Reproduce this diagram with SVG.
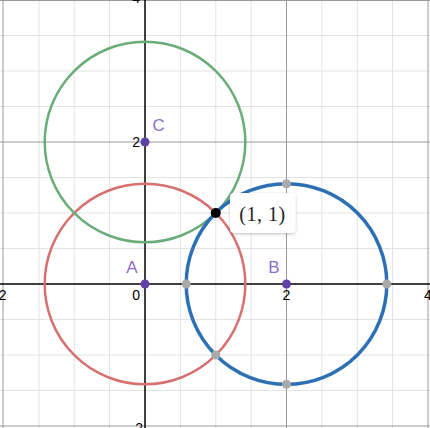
<svg xmlns="http://www.w3.org/2000/svg" width="430" height="428" viewBox="0 0 430 428">
  <defs>
    <style>
      .minor { stroke: #e3e3e3; stroke-width: 1; }
      .major { stroke: #9a9a9a; stroke-width: 1; }
      .axis { stroke: #000; stroke-width: 1.5; }
      .num { font-family: "Liberation Sans", Arial, sans-serif; font-size: 14px; fill: #000; }
      .lbl { font-family: "Liberation Sans", Arial, sans-serif; font-size: 17px; fill: #8b6fca; }
      .pt { fill: #6042a6; }
      .gpt { fill: #a9a9a9; }
      .circ { fill: none; }
    </style>
    <filter id="sh" x="-20%" y="-20%" width="140%" height="150%">
      <feDropShadow dx="0" dy="1" stdDeviation="1.5" flood-color="#000" flood-opacity="0.25"/>
    </filter>
  </defs>
  <rect x="0" y="0" width="430" height="428" fill="#fff"/>
  <g id="grid">
    <g class="minor">
      <line x1="38.9" y1="0" x2="38.9" y2="428"/>
      <line x1="74.25" y1="0" x2="74.25" y2="428"/>
      <line x1="109.6" y1="0" x2="109.6" y2="428"/>
      <line x1="180.4" y1="0" x2="180.4" y2="428"/>
      <line x1="215.75" y1="0" x2="215.75" y2="428"/>
      <line x1="251.1" y1="0" x2="251.1" y2="428"/>
      <line x1="321.9" y1="0" x2="321.9" y2="428"/>
      <line x1="357.25" y1="0" x2="357.25" y2="428"/>
      <line x1="392.6" y1="0" x2="392.6" y2="428"/>
      <line x1="0" y1="35.5" x2="430" y2="35.5"/>
      <line x1="0" y1="71" x2="430" y2="71"/>
      <line x1="0" y1="106.5" x2="430" y2="106.5"/>
      <line x1="0" y1="177.5" x2="430" y2="177.5"/>
      <line x1="0" y1="213" x2="430" y2="213"/>
      <line x1="0" y1="248.5" x2="430" y2="248.5"/>
      <line x1="0" y1="319.5" x2="430" y2="319.5"/>
      <line x1="0" y1="355" x2="430" y2="355"/>
      <line x1="0" y1="390.5" x2="430" y2="390.5"/>
    </g>
    <g class="major">
      <line x1="3" y1="0" x2="3" y2="428"/>
      <line x1="286.5" y1="0" x2="286.5" y2="428"/>
      <line x1="428" y1="0" x2="428" y2="428"/>
      <line x1="0" y1="142" x2="430" y2="142"/>
      <line x1="0" y1="426" x2="430" y2="426"/>
      <line x1="0" y1="0.5" x2="430" y2="0.5"/>
    </g>
    <line class="axis" x1="145" y1="0" x2="145" y2="428"/>
    <line class="axis" x1="0" y1="284" x2="430" y2="284"/>
    <text class="num" x="140" y="3" text-anchor="end">4</text>
    <text class="num" x="140" y="147" text-anchor="end">2</text>
    <text class="num" x="140" y="300" text-anchor="end">0</text>
    <text class="num" x="286.5" y="300" text-anchor="middle">2</text>
    <text class="num" x="428" y="300" text-anchor="middle">4</text>
    <text class="num" x="6.5" y="300" text-anchor="end">-2</text>
    <text class="num" x="143" y="433" text-anchor="end">-2</text>
  </g>
  <g id="connectors">
    <circle id="circleA" class="circ" cx="145" cy="284" r="100.3" stroke="#d7716f" stroke-width="2.5"/>
    <circle id="circleC" class="circ" cx="145" cy="142" r="100.3" stroke="#6aad78" stroke-width="2.5"/>
    <circle id="circleB" class="circ" cx="286.5" cy="284" r="100.3" stroke="#2d70b3" stroke-width="3.5"/>
  </g>
  <g id="gray-points">
    <circle class="gpt" cx="286.5" cy="183.7" r="4.5"/>
    <circle class="gpt" cx="186.2" cy="284" r="4.5"/>
    <circle class="gpt" cx="386.8" cy="284" r="4.5"/>
    <circle class="gpt" cx="286.5" cy="384.3" r="4.5"/>
    <circle class="gpt" cx="215.75" cy="355" r="4.5"/>
  </g>
  <g id="nodeA">
    <circle class="pt" cx="145" cy="284" r="4.5"/>
    <text class="lbl" x="137.5" y="273" text-anchor="end">A</text>
  </g>
  <g id="nodeB">
    <circle class="pt" cx="286.5" cy="284" r="4.5"/>
    <text class="lbl" x="279.5" y="273" text-anchor="end">B</text>
  </g>
  <g id="nodeC">
    <circle class="pt" cx="145" cy="142" r="4.5"/>
    <text class="lbl" x="152.5" y="131">C</text>
  </g>
  <g id="intersection">
    <circle cx="215.75" cy="213" r="5" fill="#000"/>
    <rect x="230" y="193" width="65.5" height="40" rx="4" fill="#fff" filter="url(#sh)"/>
    <text x="262.5" y="220.5" text-anchor="middle" font-family="'Liberation Serif', 'Times New Roman', serif" font-size="20" letter-spacing="0.5" fill="#222">(1, 1)</text>
  </g>
</svg>
